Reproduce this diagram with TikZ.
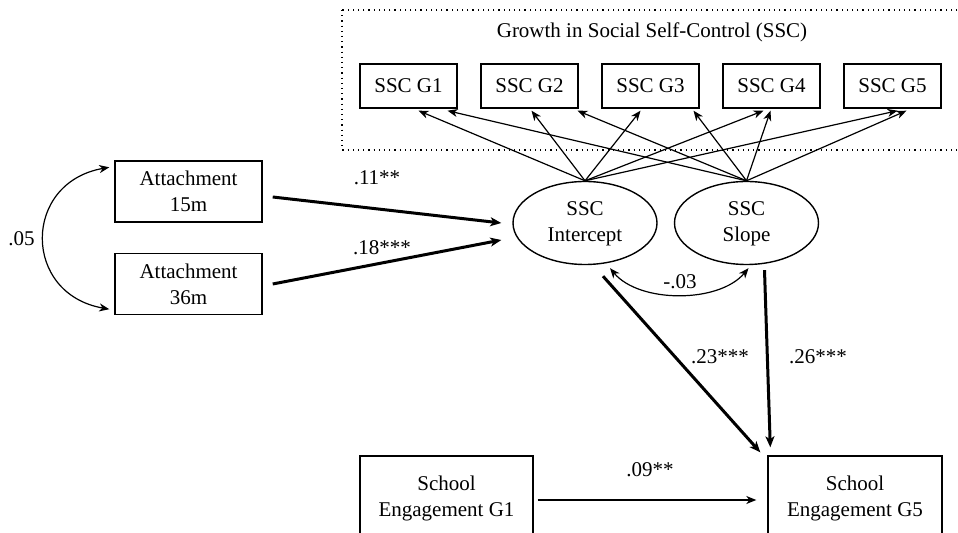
\documentclass[tikz,border=0pt]{standalone}
\usepackage{fontspec}
\setmainfont{Liberation Serif}
\usetikzlibrary{arrows.meta,shapes.geometric}
\tikzset{
  obs/.style={draw, rectangle, line width=0.7pt, inner sep=0pt, align=center},
  lat/.style={draw, ellipse, line width=0.7pt, inner sep=0pt, align=center,
    minimum width=72pt, minimum height=41.5pt},
  load/.style={-{Stealth[length=5pt,width=4pt,inset=1.5pt]}, line width=0.6pt},
  path/.style={-{Stealth[length=5.5pt,width=4.5pt,inset=1.5pt]}, line width=1.5pt},
  cov/.style={{Stealth[length=5pt,width=4pt,inset=1.5pt]}-{Stealth[length=5pt,width=4pt,inset=1.5pt]}, line width=0.6pt}
}
\def\lattext#1{\raisebox{-2pt}{\begin{tabular}{@{}c@{}}#1\end{tabular}}}
\begin{document}
\begin{tikzpicture}[x=0.5pt, y=-0.5pt, font=\fontsize{10.5}{13}\selectfont]
\useasboundingbox (0,0) rectangle (958,533);
\clip (0,0) rectangle (958,533);
% growth block
\draw[dotted, line width=0.6pt] (342,10) rectangle (962,150);
\node (ttl) at (652,32) {Growth in Social Self-Control (SSC)};
\node[obs, minimum width=48.5pt, minimum height=22pt] (g1) at (408.5,86) {SSC G1};
\node[obs, minimum width=48.5pt, minimum height=22pt] (g2) at (529.5,86) {SSC G2};
\node[obs, minimum width=48.5pt, minimum height=22pt] (g3) at (650.5,86) {SSC G3};
\node[obs, minimum width=48.5pt, minimum height=22pt] (g4) at (771.5,86) {SSC G4};
\node[obs, minimum width=48.5pt, minimum height=22pt] (g5) at (892.5,86) {SSC G5};
\node[lat] (icpt) at (585,223) {\lattext{SSC\\Intercept}};
\node[lat] (slp) at (746.5,223) {\lattext{SSC\\Slope}};
% loadings
\draw[load] (icpt.north) -- ([xshift=5pt,yshift=-1pt]g1.south);
\draw[load] (icpt.north) -- ([xshift=1pt,yshift=-1pt]g2.south);
\draw[load] (icpt.north) -- ([xshift=-5pt,yshift=-1pt]g3.south);
\draw[load] (icpt.north) -- ([xshift=-4pt,yshift=-1pt]g4.south);
\draw[load] (icpt.north) -- ([xshift=2.5pt,yshift=-1pt]g5.south);
\draw[load] (slp.north) -- ([xshift=19.5pt,yshift=-1pt]g1.south);
\draw[load] (slp.north) -- ([xshift=24pt,yshift=-1pt]g2.south);
\draw[load] (slp.north) -- ([xshift=21.5pt,yshift=-1pt]g3.south);
\draw[load] (slp.north) -- ([xshift=-0.5pt,yshift=-1pt]g4.south);
\draw[load] (slp.north) -- ([xshift=7pt,yshift=-1pt]g5.south);
% predictors
\node[obs, minimum width=73.5pt, minimum height=30.5pt] (att15) at (188.5,191.5) {Attachment\\15m};
\node[obs, minimum width=73.5pt, minimum height=30.5pt] (att36) at (188.5,284) {Attachment\\36m};
\draw[cov] ([xshift=-2.5pt,yshift=-3.5pt]att15.north west) to[out=190, in=170, looseness=1.6] node[left=1pt] {.05} ([xshift=-2.5pt,yshift=3pt]att36.south west);
\draw[path] ([xshift=5pt,yshift=-2.75pt]att15.east) -- ([xshift=-5.5pt]icpt.west);
\draw[path] ([xshift=5pt]att36.east) -- ([xshift=-5.5pt,yshift=-8.5pt]icpt.west);
\node (b1) at (377,178) {.11**};
\node (b2) at (382,248) {.18***};
% outcome
\node[obs, minimum width=86.5pt, minimum height=42pt] (se1) at (446.5,498) {School\\Engagement G1};
\node[obs, minimum width=87pt, minimum height=42pt] (se5) at (855,498) {School\\Engagement G5};
\draw[cov] ([xshift=12.5pt,yshift=-1.5pt]icpt.south) to[out=-50, in=-130, looseness=0.85] ([xshift=1pt,yshift=-1.5pt]slp.south);
\node (b3) at (680,282) {-.03};
\draw[path] ([xshift=9pt,yshift=-5.5pt]icpt.south) -- ([xshift=-3.5pt,yshift=1.5pt]se5.north west);
\draw[path] ([xshift=9pt,yshift=-2.5pt]slp.south) -- ([xshift=1.5pt,yshift=4pt]se5.north west);
\node (b4) at (720,357) {.23***};
\node (b5) at (818,357) {.26***};
\draw[load] ([xshift=2pt,yshift=-1pt]se1.east) -- ([xshift=-5.5pt,yshift=-1pt]se5.west);
\node (b6) at (650,470) {.09**};
\end{tikzpicture}
\end{document}
